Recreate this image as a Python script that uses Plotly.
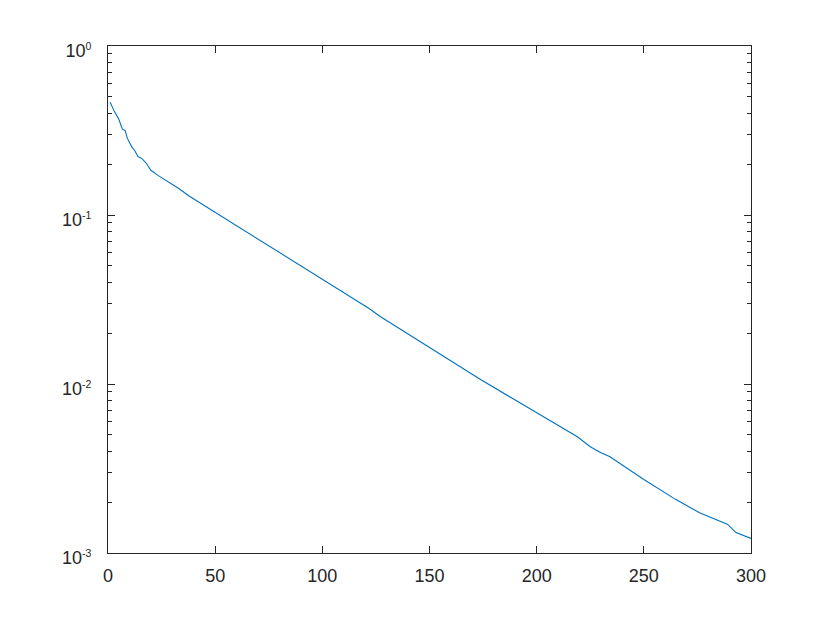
import plotly.graph_objects as go

iterations = [1, 3, 5, 6.7, 8, 9, 11, 12.5, 14, 16, 18, 20, 23.5, 33, 38, 50, 75, 100,
              122, 127, 150, 174, 189, 200, 205, 219, 225, 230, 234, 250, 265, 276,
              283, 289, 293, 300]
residual = [0.465, 0.409, 0.370, 0.322, 0.316, 0.285, 0.254, 0.240, 0.222, 0.215, 0.201,
            0.184, 0.171, 0.1435, 0.129, 0.1035, 0.0658, 0.0417, 0.0279, 0.0251, 0.0165,
            0.0106, 0.00817, 0.00674, 0.00622, 0.00487, 0.00425, 0.00392, 0.00372,
            0.00272, 0.00207, 0.00173, 0.00159, 0.00148, 0.00132, 0.00122]

x_ticks = [0, 50, 100, 150, 200, 250, 300]
y_ticks = [1e-3, 1e-2, 1e-1, 1e0]
y_exponents = ["-3", "-2", "-1", "0"]
y_ticktext = ['10<sup><span style="font-size:10.5px">' + e + '</span></sup>' for e in y_exponents]
y_minor = [m * 10.0 ** e for e in (-3, -2, -1) for m in range(2, 10)]

axis_color = "#262626"
font = dict(family="Liberation Sans, Arial, sans-serif", size=18, color=axis_color)

fig = go.Figure()
fig.add_trace(go.Scatter(x=iterations, y=residual, mode="lines",
                         line=dict(color="#0072BD", width=1.1), showlegend=False))

fig.update_layout(
    width=822, height=615,
    margin=dict(l=100, r=79, t=38, b=69.5),
    paper_bgcolor="white", plot_bgcolor="white",
    font=font,
)
fig.update_xaxes(
    range=[0, 300], tickvals=x_ticks, ticks="inside", ticklen=7, tickwidth=1,
    tickcolor=axis_color, showline=True, linecolor=axis_color, linewidth=1,
    mirror="allticks", showgrid=False, zeroline=False, tickfont=font,
    ticklabelstandoff=6,
)
fig.update_yaxes(
    type="log", range=[-3, 0], tickvals=y_ticks, ticktext=y_ticktext,
    ticks="inside", ticklen=7, tickwidth=1, tickcolor=axis_color,
    minor=dict(tickvals=y_minor, ticks="inside", ticklen=4, tickcolor=axis_color, showgrid=False),
    showline=True, linecolor=axis_color, linewidth=1, mirror="allticks",
    showgrid=False, zeroline=False, tickfont=font, ticklabelstandoff=12,
    ticklabelshift=5,
)

fig.write_html("out.html")
